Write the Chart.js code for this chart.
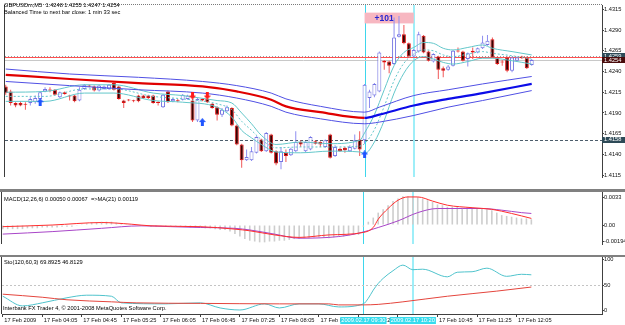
<!DOCTYPE html>
<html>
<head>
<meta charset="utf-8">
<title>GBPUSDm,M5</title>
<script src="https://cdn.jsdelivr.net/npm/chart.js@4.4.1/dist/chart.umd.min.js"></script>
<style>
  body { margin: 0; background: #fff; }
  #wrap { position: relative; width: 625px; height: 325px; overflow: hidden; background: #fff; }
  #wrap canvas { position: absolute; left: 0; }
  .sep { position: absolute; left: 0; width: 625px; background: #808080; }
  .lbl { position: absolute; left: 4px; font-family: "Liberation Sans", Arial, sans-serif; font-size: 5.7px; line-height: 7px; color: #000; white-space: pre; }
</style>
</head>
<body>
<div id="wrap">
  <canvas id="main" width="625" height="189" style="top:0"></canvas>
  <div class="sep" style="top:189px;height:3px"></div>
  <canvas id="macd" width="625" height="63" style="top:192px"></canvas>
  <div class="sep" style="top:255px;height:2px"></div>
  <canvas id="sto" width="625" height="68" style="top:257px"></canvas>
  <div class="lbl" style="top:2px">GBPUSDm,M5  1.4248 1.4255 1.4247 1.4254</div>
  <div class="lbl" style="top:9px">Balanced Time to next bar close: 1 min 33 sec</div>
  <div class="lbl" style="top:196px">MACD(12,26,6) 0.00050 0.00067  =&gt;MA(21) 0.00119</div>
  <div class="lbl" style="top:259px">Sto(120,60,3) 69.8925 46.8129</div>
  <div class="lbl" style="top:305px;left:3px">Interbank FX Trader 4, © 2001-2008 MetaQuotes Software Corp.</div>
</div>
<script>
// ---- time axis (5 minute bars, bar 0 = 03:25) ----
const timeTickBars = [0, 8, 16, 24, 32, 40, 48, 56, 64, 72, 80, 88, 96, 104];
const timeLabels = ['17 Feb 2009', '17 Feb 04:05', '17 Feb 04:45', '17 Feb 05:25', '17 Feb 06:05', '17 Feb 06:45',
  '17 Feb 07:25', '17 Feb 08:05', '17 Feb 08:45', '17 Feb 09:25', '17 Feb 10:05', '17 Feb 10:45', '17 Feb 11:25', '17 Feb 12:05'];

// ---- candles ----
const opens = [
  1.4222,1.4216,1.4202,1.4202,1.4201,1.4202,1.4203,1.4207,1.4216,1.4218,
  1.4218,1.4209,1.4215,1.4211,1.4211,1.4205,1.4219,1.4223,1.4222,1.4217,
  1.4219,1.4219,1.4226,1.4222,1.4205,1.4206,1.4205,1.4211,1.4211,1.4211,
  1.4211,1.4203,1.4197,1.4216,1.4204,1.4205,1.4206,1.4207,1.4205,1.4181,
  1.4207,1.4207,1.4201,1.4197,1.4188,1.4192,1.4196,1.4175,1.4152,1.4133,
  1.4133,1.4142,1.4158,1.4144,1.4164,1.4144,1.4131,1.4142,1.4139,1.4144,
  1.4155,1.4144,1.4146,1.4156,1.4155,1.4149,1.4164,1.4138,1.4147,1.4148,
  1.4144,1.4147,1.4158,1.4157,1.4208,1.4211,1.4216,1.4253,1.4252,1.4249,
  1.4282,1.4285,1.4274,1.4258,1.4264,1.4283,1.4264,1.4252,1.4258,1.4244,
  1.4242,1.4247,1.4265,1.4264,1.4255,1.4265,1.4263,1.4268,1.4272,1.4279,
  1.4257,1.4252,1.4257,1.4241,1.4253,1.4258,1.4257,1.4248];
const highs = [
  1.4224,1.4218,1.4203,1.4204,1.4203,1.4209,1.4211,1.4216,1.4221,1.4221,
  1.4219,1.4216,1.4216,1.4212,1.4212,1.4221,1.4225,1.4224,1.4223,1.4224,
  1.4223,1.4225,1.4227,1.4223,1.4206,1.4207,1.4206,1.4212,1.4212,1.4212,
  1.4212,1.4204,1.4213,1.4217,1.4208,1.4207,1.4213,1.4212,1.4207,1.4208,
  1.4208,1.4209,1.4202,1.4198,1.4196,1.4199,1.4197,1.4176,1.4153,1.4146,
  1.4149,1.4162,1.4159,1.4167,1.4165,1.4145,1.4149,1.4146,1.4148,1.4168,
  1.4157,1.4156,1.4162,1.4157,1.4156,1.4158,1.4165,1.4151,1.4148,1.4149,
  1.4151,1.4164,1.4168,1.4225,1.4218,1.4226,1.4264,1.4254,1.4253,1.4305,
  1.4307,1.4296,1.4275,1.4267,1.4288,1.4284,1.4265,1.4262,1.4259,1.4246,
  1.4248,1.4266,1.4269,1.4265,1.4263,1.4269,1.4269,1.4283,1.4284,1.4281,
  1.4258,1.4254,1.4258,1.4258,1.4258,1.4259,1.4258,1.4255];
const lows = [
  1.4212,1.4199,1.4197,1.4198,1.4194,1.4199,1.4201,1.4206,1.4215,1.4215,
  1.4211,1.4208,1.4212,1.4205,1.4203,1.4204,1.4218,1.4221,1.4216,1.4216,
  1.4218,1.4218,1.4217,1.4206,1.4196,1.4204,1.4203,1.4203,1.4207,1.4207,
  1.4201,1.4199,1.4196,1.4202,1.4203,1.4203,1.4205,1.4206,1.4179,1.4179,
  1.4204,1.4202,1.4195,1.4181,1.4185,1.4191,1.4174,1.4151,1.4124,1.4132,
  1.4132,1.4141,1.4143,1.4143,1.4141,1.4127,1.4122,1.4131,1.4138,1.4143,
  1.4149,1.4143,1.4145,1.4152,1.4149,1.4148,1.4135,1.4137,1.4143,1.4142,
  1.4143,1.4146,1.4138,1.4153,1.4196,1.4209,1.4215,1.4242,1.4238,1.4248,
  1.4281,1.4273,1.4257,1.4257,1.4263,1.4262,1.4252,1.4251,1.4231,1.4233,
  1.4241,1.4246,1.4263,1.4252,1.4246,1.4255,1.4262,1.4267,1.4271,1.4256,
  1.4248,1.4247,1.4239,1.4239,1.4252,1.4255,1.4243,1.4247];
const closes = [
  1.4214,1.4202,1.4199,1.4199,1.4200,1.4207,1.4208,1.4215,1.4219,1.4217,
  1.4212,1.4215,1.4213,1.4210,1.4204,1.4218,1.4224,1.4222,1.4217,1.4223,
  1.4222,1.4224,1.4218,1.4207,1.4202,1.4205,1.4204,1.4204,1.4208,1.4208,
  1.4202,1.4202,1.4212,1.4203,1.4207,1.4204,1.4212,1.4211,1.4181,1.4207,
  1.4205,1.4203,1.4196,1.4188,1.4194,1.4197,1.4175,1.4152,1.4133,1.4137,
  1.4144,1.4161,1.4144,1.4166,1.4142,1.4129,1.4144,1.4138,1.4147,1.4155,
  1.4152,1.4155,1.4161,1.4153,1.4152,1.4157,1.4136,1.4149,1.4144,1.4145,
  1.4149,1.4157,1.4146,1.4224,1.4216,1.4225,1.4263,1.4251,1.4247,1.4281,
  1.4285,1.4274,1.4258,1.4266,1.4285,1.4263,1.4253,1.4261,1.4242,1.4241,
  1.4246,1.4265,1.4264,1.4253,1.4262,1.4263,1.4268,1.4275,1.4277,1.4257,
  1.4249,1.4251,1.4241,1.4257,1.4257,1.4256,1.4244,1.4254];

// ---- moving average + envelope (red while falling, blue from the turn) ----
const maBars   = [0, 13, 27, 40, 47, 54, 57, 64, 73, 76, 83, 90, 97, 107];
const maLine   = [1.4236,1.4231,1.4226,1.4222,1.4216,1.4206,1.4198,1.4191,1.4184,1.4188,1.4199,1.4207,1.4214,1.4225];
const envUpper = [1.4243,1.4237,1.4233,1.4228,1.4223,1.4214,1.4207,1.4198,1.4191,1.4197,1.4211,1.4218,1.4225,1.4234];
const envLower = [1.4228,1.4223,1.4218,1.4214,1.4208,1.4198,1.4191,1.4183,1.4177,1.4179,1.4187,1.4197,1.4205,1.4217];
const maTurnBar = 73;

// ---- cyan bands ----
const bbBars  = [0, 8, 16, 22, 30, 36, 43, 46, 48, 50, 52, 55, 60, 66, 72, 73, 75, 77, 79, 81, 83, 85, 87, 89, 91, 94, 97, 99, 103, 107];
const bbUpper = [1.4215,1.4216,1.4224,1.4224,1.4214,1.4211,1.4205,1.4202,1.4190,1.4177,1.4163,1.4152,1.4155,1.4153,1.4157,
                 1.4166,1.4188,1.4218,1.4247,1.4263,1.4269,1.4275,1.4274,1.4268,1.4266,1.4269,1.4272,1.4268,1.4264,1.4260];
const bbMid   = [1.4210,1.4210,1.4219,1.4219,1.4210,1.4207,1.4201,1.4194,1.4180,1.4169,1.4158,1.4148,1.4149,1.4149,1.4150,
                 1.4153,1.4170,1.4198,1.4229,1.4250,1.4261,1.4266,1.4265,1.4260,1.4258,1.4261,1.4264,1.4262,1.4259,1.4255];
const bbLower = [1.4204,1.4204,1.4214,1.4214,1.4205,1.4203,1.4197,1.4185,1.4169,1.4160,1.4152,1.4143,1.4142,1.4144,1.4143,
                 1.4141,1.4155,1.4181,1.4214,1.4238,1.4253,1.4258,1.4255,1.4251,1.4249,1.4252,1.4256,1.4256,1.4253,1.4249];

// ---- signal arrows ----
const arrowUpBars = [7, 40, 73];
const arrowUpPrices = [1.4203, 1.4179, 1.4140];
const arrowDownBars = [38, 41];
const arrowDownPrices = [1.4211, 1.4211];

// ---- objects on the chart ----
const vlineBars = [73, 83];
const vlineLabels = ['2009.02.17 09:30', '2009.02.17 10:20'];
const boxBars = [73, 83];
const boxPrices = [1.4311, 1.4298];
const boxText = '+101';
const levelPrice = 1.4158;
const markPrice = 1.4259;
const askPrice = 1.4257;
const bidPrice = 1.4254;
const tagPrices = [1.4259, 1.4254, 1.4158];

const priceTicks = [1.4315, 1.4290, 1.4265, 1.4240, 1.4215, 1.4190, 1.4165, 1.4140, 1.4115];
const priceTickLabels = ['1.4315', '1.4290', '1.4265', '1.4240', '1.4215', '1.4190', '1.4165', '1.4140', '1.4115'];

// ---- MACD panel ----
const macdHist = [
  -0.0005,-0.0005,-0.0005,-0.0005,-0.0005,-0.0004,-0.0004,-0.0004,-0.0003,-0.0003,
  -0.0003,-0.0003,-0.0002,-0.0002,-0.0002,-0.0001,0.0001,0.0002,0.0003,0.0003,
  0.0004,0.0004,0.0004,0.0003,0.0002,0.0001,0.0001,0.0000,-0.0001,-0.0001,
  -0.0002,-0.0002,-0.0001,-0.0002,-0.0002,-0.0002,-0.0002,-0.0002,-0.0003,-0.0003,
  -0.0003,-0.0004,-0.0004,-0.0005,-0.0006,-0.0006,-0.0008,-0.0011,-0.0014,-0.0017,
  -0.0019,-0.0020,-0.0021,-0.0021,-0.0020,-0.0020,-0.0019,-0.0019,-0.0018,-0.0017,
  -0.0017,-0.0016,-0.0016,-0.0015,-0.0015,-0.0015,-0.0016,-0.0015,-0.0014,-0.0014,
  -0.0013,-0.0012,-0.0012,-0.0002,0.0004,0.0009,0.0015,0.0019,0.0024,0.0029,
  0.0032,0.0035,0.0035,0.0035,0.0034,0.0032,0.0030,0.0028,0.0025,0.0024,
  0.0022,0.0022,0.0022,0.0021,0.0021,0.0021,0.0020,0.0020,0.0019,0.0018,
  0.0015,0.0012,0.0011,0.0010,0.0009,0.0008,0.0008,0.0007];
const macdRedBars = [0, 10, 20, 26, 30, 40, 47, 50, 55, 60, 66, 73, 75, 76, 78, 80, 82, 84, 87, 90, 95, 99, 103, 107];
const macdRed = [-0.0002,0.0000,0.0003,0.0001,-0.0001,-0.0002,-0.0005,-0.0007,-0.0012,-0.0015,-0.0012,-0.0009,
                 -0.0003,0.0007,0.0020,0.0030,0.0034,0.0034,0.0029,0.0024,0.0021,0.0019,0.0014,0.0008];
const macdPurpleBars = [0, 10, 20, 28, 34, 40, 47, 50, 55, 60, 68, 72, 76, 80, 84, 88, 93, 97, 101, 105, 107];
const macdPurple = [-0.0011,-0.0008,-0.0004,-0.0001,-0.0002,-0.0003,-0.0004,-0.0006,-0.0011,-0.0016,-0.0014,
                    -0.0010,-0.0003,0.0005,0.0015,0.0020,0.0020,0.0020,0.0018,0.0015,0.0014];
const macdTicks = [0.0033, 0, -0.00194];
const macdTickLabels = ['0.0033', '0.00', '-0.00194'];

// ---- Stochastic panel ----
const stochMainBars = [0, 4, 8, 13, 17, 22, 24, 33, 40, 44, 48, 53, 56, 60, 64, 68, 73, 74, 75, 76, 77, 79, 81, 83, 85, 90, 92, 95, 98, 102, 105, 107];
const stochMain = [28, 9, 15, 25, 30, 28, 15, 13, 15, 5, 1, 13, 5, 13, 13, 7, 13, 24, 40, 53, 63, 78, 89, 80, 81, 66, 75, 76, 83, 67, 71, 70];
const stochSigBars = [0, 8, 13, 22, 27, 40, 56, 66, 68, 73, 76, 81, 90, 100, 107];
const stochSig = [32, 26, 21, 17, 15, 14, 13, 13, 11, 11, 12, 17, 28, 38, 46];
const stochLevel = 50;
const stochTicks = [100, 50, 0];
const stochTickLabels = ['100', '50', '0'];

// ---------------------------------------------------------------
Chart.defaults.font.family = '"Liberation Sans", Arial, sans-serif';
Chart.defaults.font.size = 5.7;
Chart.defaults.color = '#111';

const FONT = '5.7px "Liberation Sans", Arial, sans-serif';
const pts = (bars, vals) => bars.map((b, k) => ({ x: b, y: vals[k] }));

function xAxis(show) {
  return {
    type: 'linear', min: -0.15, max: 121.3, display: show, offset: false,
    afterBuildTicks: s => { s.ticks = timeTickBars.map(v => ({ value: v })); },
    afterFit: s => { s.height = 11; s.paddingLeft = 0; s.paddingRight = 0; },
    ticks: { autoSkip: false, maxRotation: 0, minRotation: 0, align: 'start', padding: 0,
      callback: v => ' ' + timeLabels[timeTickBars.indexOf(v)] },
    grid: { offset: false, drawOnChartArea: false, tickLength: 3, color: '#404040' },
    border: { color: '#404040' }
  };
}
function yAxis(min, max, ticks, labels) {
  return {
    type: 'linear', position: 'right', min, max,
    afterBuildTicks: s => { s.ticks = ticks.map(v => ({ value: v })); },
    afterFit: s => { s.width = 23; s.paddingTop = 0; s.paddingBottom = 0; },
    ticks: { padding: 0, autoSkip: false, callback: (v, i) => labels[i] },
    grid: { drawOnChartArea: false, tickLength: 2, color: '#404040' },
    border: { color: '#404040' }
  };
}
const baseOptions = (pad) => ({
  responsive: false, animation: false, events: [],
  layout: { padding: pad },
  plugins: { legend: { display: false }, tooltip: { enabled: false } }
});

// cyan time markers + left frame line, shared by the three panels
const frame = {
  id: 'frame',
  beforeDatasetsDraw(chart) {
    const { ctx, chartArea: a, scales: { x } } = chart;
    ctx.save();
    vlineBars.forEach((b, k) => {
      const px = Math.round(x.getPixelForValue(b)) + (k === 0 ? 0.5 : 0);
      ctx.strokeStyle = k === 0 ? '#3ed6ec' : '#9eeef8';
      ctx.lineWidth = k === 0 ? 1 : 2;
      ctx.beginPath(); ctx.moveTo(px, a.top); ctx.lineTo(px, a.bottom); ctx.stroke();
    });
    ctx.restore();
  },
  afterDraw(chart) {
    const { ctx, chartArea: a } = chart;
    ctx.save();
    ctx.strokeStyle = '#3c3c3c'; ctx.lineWidth = 1;
    ctx.beginPath(); ctx.moveTo(a.left - 0.5, a.top); ctx.lineTo(a.left - 0.5, a.bottom); ctx.stroke();
    ctx.restore();
  }
};

const mainMarks = {
  id: 'mainMarks',
  beforeDatasetsDraw(chart) {
    const { ctx, chartArea: a, scales: { x, y } } = chart;
    ctx.save();
    const bx0 = x.getPixelForValue(boxBars[0]), bx1 = x.getPixelForValue(boxBars[1]);
    const by0 = y.getPixelForValue(boxPrices[0]), by1 = y.getPixelForValue(boxPrices[1]);
    ctx.fillStyle = '#f7b7c1';
    ctx.fillRect(bx0, by0, bx1 - bx0, by1 - by0);
    ctx.fillStyle = '#2424d0';
    ctx.font = 'bold 8.5px "Liberation Sans", Arial, sans-serif';
    ctx.textBaseline = 'middle';
    ctx.fillText(boxText, bx0 + 10, (by0 + by1) / 2 + 0.5);

    const hl = (v, color, dash) => {
      const py = Math.round(y.getPixelForValue(v)) + 0.5;
      ctx.strokeStyle = color; ctx.setLineDash(dash); ctx.lineWidth = 1;
      ctx.beginPath(); ctx.moveTo(a.left, py); ctx.lineTo(a.right, py); ctx.stroke();
    };
    hl(levelPrice, '#4d5d6b', [3, 2]);
    hl(markPrice, '#9a9a9a', [1, 2]);
    hl(bidPrice, '#c8c8c8', []);
    hl(askPrice, '#ff5050', []);
    // dotted top edge
    ctx.strokeStyle = '#7a7a7a'; ctx.setLineDash([1, 1]);
    ctx.beginPath(); ctx.moveTo(a.left, a.top - 0.5); ctx.lineTo(a.right, a.top - 0.5); ctx.stroke();
    ctx.restore();
  },
  afterDraw(chart) {
    const { ctx, scales: { y } } = chart;
    const tagColors = ['#2e4a57', '#4a0c0c', '#2e4a57'];
    ctx.save();
    ctx.font = FONT;
    ctx.textBaseline = 'middle';
    tagPrices.forEach((v, k) => {
      const py = y.getPixelForValue(v);
      ctx.fillStyle = tagColors[k];
      ctx.fillRect(y.left, Math.round(py) - 3, 23, 6);
      ctx.fillStyle = '#fff';
      ctx.fillText(v.toFixed(4), y.left + 2, py + 0.3);
    });
    ctx.restore();
  }
};

const stoMarks = {
  id: 'stoMarks',
  beforeDatasetsDraw(chart) {
    const { ctx, chartArea: a, scales: { y } } = chart;
    const py = Math.round(y.getPixelForValue(stochLevel)) + 0.5;
    ctx.save();
    ctx.strokeStyle = '#c4c4c4'; ctx.setLineDash([2, 2]); ctx.lineWidth = 1;
    ctx.beginPath(); ctx.moveTo(a.left, py); ctx.lineTo(a.right, py); ctx.stroke();
    ctx.restore();
  },
  afterDraw(chart) {
    const { ctx, chartArea: a, scales: { x } } = chart;
    ctx.save();
    ctx.font = FONT;
    ctx.textAlign = 'center'; ctx.textBaseline = 'middle';
    vlineBars.forEach((b, k) => {
      const px = x.getPixelForValue(b);
      const w = ctx.measureText(vlineLabels[k]).width + 2;
      ctx.fillStyle = '#36dcee';
      ctx.fillRect(px - w / 2, a.bottom + 3, w, 7);
      ctx.fillStyle = '#fff';
      ctx.fillText(vlineLabels[k], px, a.bottom + 6.6);
    });
    ctx.restore();
  }
};

function arrowImg(color, up) {
  const c = document.createElement('canvas');
  c.width = 7; c.height = 8;
  const g = c.getContext('2d');
  g.fillStyle = color;
  g.beginPath();
  if (up) { g.moveTo(3.5, 0); g.lineTo(7, 4); g.lineTo(0, 4); }
  else { g.moveTo(3.5, 8); g.lineTo(7, 4); g.lineTo(0, 4); }
  g.closePath(); g.fill();
  g.fillRect(2, up ? 4 : 0, 3, 4);
  return c;
}

// ---- main price panel ----
const bull = closes.map((c, i) => c >= opens[i]);
const lineDs = (data, color, width, order, extra) => Object.assign({
  type: 'line', data, borderColor: color, borderWidth: width, pointRadius: 0,
  cubicInterpolationMode: 'monotone', order
}, extra || {});

new Chart(document.getElementById('main'), {
  type: 'bar',
  data: {
    datasets: [
      lineDs(pts(maBars, maLine), '#e00000', 2.2, -4, {
        segment: { borderColor: c => maBars[c.p0DataIndex] >= maTurnBar ? '#0c0ce8' : '#e00000' }
      }),
      lineDs(pts(maBars, envUpper), '#5050e4', 1, -3),
      lineDs(pts(maBars, envLower), '#5050e4', 1, -3),
      lineDs(pts(bbBars, bbUpper), '#63c7ca', 1, -2),
      lineDs(pts(bbBars, bbMid), '#63c7ca', 1, -2, { borderDash: [2, 2] }),
      lineDs(pts(bbBars, bbLower), '#63c7ca', 1, -2),
      { type: 'line', data: pts(arrowUpBars, arrowUpPrices), showLine: false, pointRadius: 4,
        pointStyle: arrowImg('#1f55ff', true), order: -6 },
      { type: 'line', data: pts(arrowDownBars, arrowDownPrices), showLine: false, pointRadius: 4,
        pointStyle: arrowImg('#ff1c1c', false), order: -6 },
      { data: opens.map((o, i) => ({ x: i, y: [o, closes[i]] })),
        backgroundColor: bull.map(b => b ? '#ffffff' : '#3c0000'),
        borderColor: bull.map(b => b ? '#7575e2' : '#e01010'),
        borderWidth: 1, borderSkipped: false, barThickness: 4, grouped: false,
        minBarLength: 1, inflateAmount: 0, order: 0 },
      { data: highs.map((h, i) => ({ x: i, y: [lows[i], h] })),
        backgroundColor: bull.map(b => b ? '#8e8ef0' : '#f05858'),
        borderWidth: 0, barThickness: 1, grouped: false, minBarLength: 1, inflateAmount: 0, order: 1 }
    ]
  },
  options: Object.assign(baseOptions({ left: 2, right: 0, top: 1, bottom: 1 }), {
    scales: { x: xAxis(false), y: yAxis(1.41128, 1.43202, priceTicks, priceTickLabels) }
  }),
  plugins: [frame, mainMarks]
});

// ---- MACD panel ----
new Chart(document.getElementById('macd'), {
  type: 'bar',
  data: {
    datasets: [
      lineDs(pts(macdRedBars, macdRed), '#ff2d2d', 1, -2),
      lineDs(pts(macdPurpleBars, macdPurple), '#a845c8', 1, -2),
      { data: macdHist.map((v, i) => ({ x: i, y: v })), backgroundColor: '#cdcdcd',
        borderWidth: 0, barThickness: 1.6, grouped: false, inflateAmount: 0, order: 1 }
    ]
  },
  options: Object.assign(baseOptions({ left: 2, right: 0, top: 0, bottom: 0 }), {
    scales: { x: xAxis(false), y: yAxis(-0.0023, 0.0040, macdTicks, macdTickLabels) }
  }),
  plugins: [frame]
});

// ---- Stochastic panel ----
new Chart(document.getElementById('sto'), {
  type: 'line',
  data: {
    datasets: [
      lineDs(pts(stochMainBars, stochMain), '#4fc3cc', 1, 1),
      lineDs(pts(stochSigBars, stochSig), '#e4453d', 1, 0)
    ]
  },
  options: Object.assign(baseOptions({ left: 2, right: 0, top: 0, bottom: 0 }), {
    scales: { x: xAxis(true), y: yAxis(-6.86, 104.9, stochTicks, stochTickLabels) }
  }),
  plugins: [frame, stoMarks]
});
</script>
</body>
</html>
